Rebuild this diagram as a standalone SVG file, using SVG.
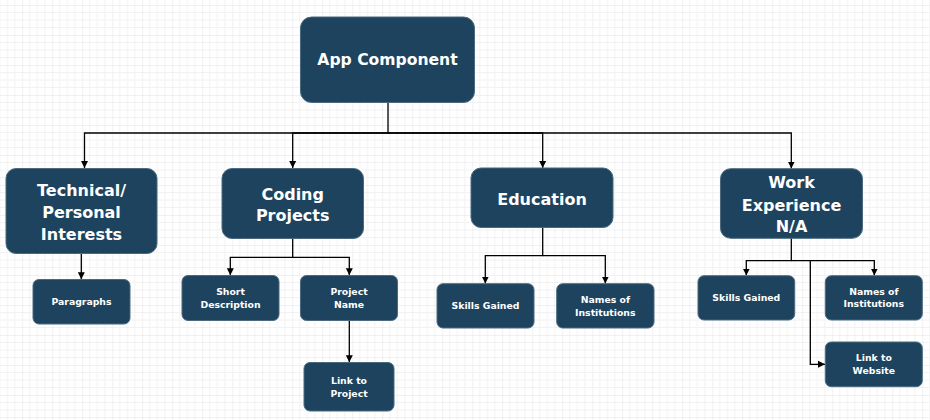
<svg xmlns="http://www.w3.org/2000/svg" width="930" height="420" viewBox="0 0 930 420">
<defs>
<pattern id="grid" width="30" height="30" patternUnits="userSpaceOnUse" patternTransform="translate(22.3,5)">
<path d="M7.5 0V30M15 0V30M22.5 0V30M0 7.5H30M0 15H30M0 22.5H30" stroke="#f2f2f2" stroke-width="1" fill="none"/>
<path d="M0 0V30M0 0H30" stroke="#e4e4e4" stroke-width="1" fill="none"/>
</pattern>
<marker id="arr" markerWidth="8" markerHeight="8" refX="7" refY="4" orient="auto" markerUnits="userSpaceOnUse">
<path d="M0 0.5L7 4L0 7.5Z" fill="#000"/>
</marker>
<style>
.n{fill:#1d435e;stroke:#4b6a80;stroke-width:1}
.t{font-family:"DejaVu Sans",Verdana,sans-serif;font-weight:bold;fill:#fff;text-anchor:middle;dominant-baseline:central}
.b{font-size:16px}
.a{font-size:15.6px}
.s{font-size:9.3px}
.c{fill:none;stroke:#000;stroke-width:1.3}
.c.m{marker-end:url(#arr)}
</style>
</defs>
<rect width="930" height="420" fill="#fff"/>
<rect width="930" height="420" fill="url(#grid)"/>
<g id="connectors">
<path class="c m" d="M388 102V133H84.5V168"/>
<path class="c m" d="M388 133H292.7V168"/>
<path class="c m" d="M388 133H542.7V168"/>
<path class="c m" d="M388 133H791.3V168.5"/>
<path class="c m" d="M81.3 253.5V279.3"/>
<path class="c m" d="M292.7 238.5V257.3H230.3V275.3"/>
<path class="c m" d="M292.7 257.3H349.3V275.3"/>
<path class="c m" d="M349.3 320.5V362.3"/>
<path class="c m" d="M542.7 227.5V255.7H485.3V283.5"/>
<path class="c m" d="M542.7 255.7H605.3V283.5"/>
<path class="c m" d="M791.3 238.3V260.7H746.3V275.5"/>
<path class="c m" d="M791.3 260.7H874.3V275.5"/>
<path class="c m" d="M810.3 260.7V364.3H825"/>
</g>
<g id="app"><rect class="n" x="300.5" y="17" width="174" height="85.5" rx="11"/><text class="t a" x="387.5" y="60">App Component</text></g>
<g id="technical"><rect class="n" x="6" y="168.5" width="151" height="85" rx="10"/><text class="t b" x="81.5" y="190">Technical/</text><text class="t b" x="81.5" y="212">Personal</text><text class="t b" x="81.5" y="234">Interests</text></g>
<g id="paragraphs"><rect class="n" x="33" y="279.5" width="97" height="44.5" rx="6"/><text class="t s" x="81.5" y="301.3">Paragraphs</text></g>
<g id="coding"><rect class="n" x="222" y="168.5" width="141.5" height="70" rx="10"/><text class="t b" x="292.7" y="194.5">Coding</text><text class="t b" x="292.7" y="215">Projects</text></g>
<g id="short"><rect class="n" x="182" y="275.5" width="97" height="45" rx="6"/><text class="t s" x="230.5" y="291.7">Short</text><text class="t s" x="230.5" y="304.3">Description</text></g>
<g id="projname"><rect class="n" x="300.5" y="275.5" width="97" height="45" rx="6"/><text class="t s" x="349" y="291.7">Project</text><text class="t s" x="349" y="304.3">Name</text></g>
<g id="linkproj"><rect class="n" x="304" y="362.5" width="90" height="48.5" rx="6"/><text class="t s" x="349" y="380">Link to</text><text class="t s" x="349" y="393.3">Project</text></g>
<g id="education"><rect class="n" x="471" y="168" width="142" height="59.5" rx="10"/><text class="t b" x="542" y="199">Education</text></g>
<g id="eduskills"><rect class="n" x="437" y="283.7" width="97" height="44.3" rx="6"/><text class="t s" x="485.5" y="305">Skills Gained</text></g>
<g id="edunames"><rect class="n" x="556.7" y="283.7" width="97.3" height="44.3" rx="6"/><text class="t s" x="605.3" y="299.3">Names of</text><text class="t s" x="605.3" y="312">Institutions</text></g>
<g id="work"><rect class="n" x="720.5" y="168.7" width="142" height="69.6" rx="10"/><text class="t b" x="791.5" y="182.7">Work</text><text class="t b" x="791.5" y="205">Experience</text><text class="t b" x="791.5" y="226">N/A</text></g>
<g id="workskills"><rect class="n" x="698" y="275.7" width="96.7" height="44.3" rx="6"/><text class="t s" x="746.3" y="297">Skills Gained</text></g>
<g id="worknames"><rect class="n" x="825.3" y="275.7" width="97" height="44.3" rx="6"/><text class="t s" x="873.8" y="291">Names of</text><text class="t s" x="873.8" y="303.7">Institutions</text></g>
<g id="linkweb"><rect class="n" x="825.3" y="342" width="97" height="44.7" rx="6"/><text class="t s" x="873.8" y="357">Link to</text><text class="t s" x="873.8" y="370">Website</text></g>
</svg>
